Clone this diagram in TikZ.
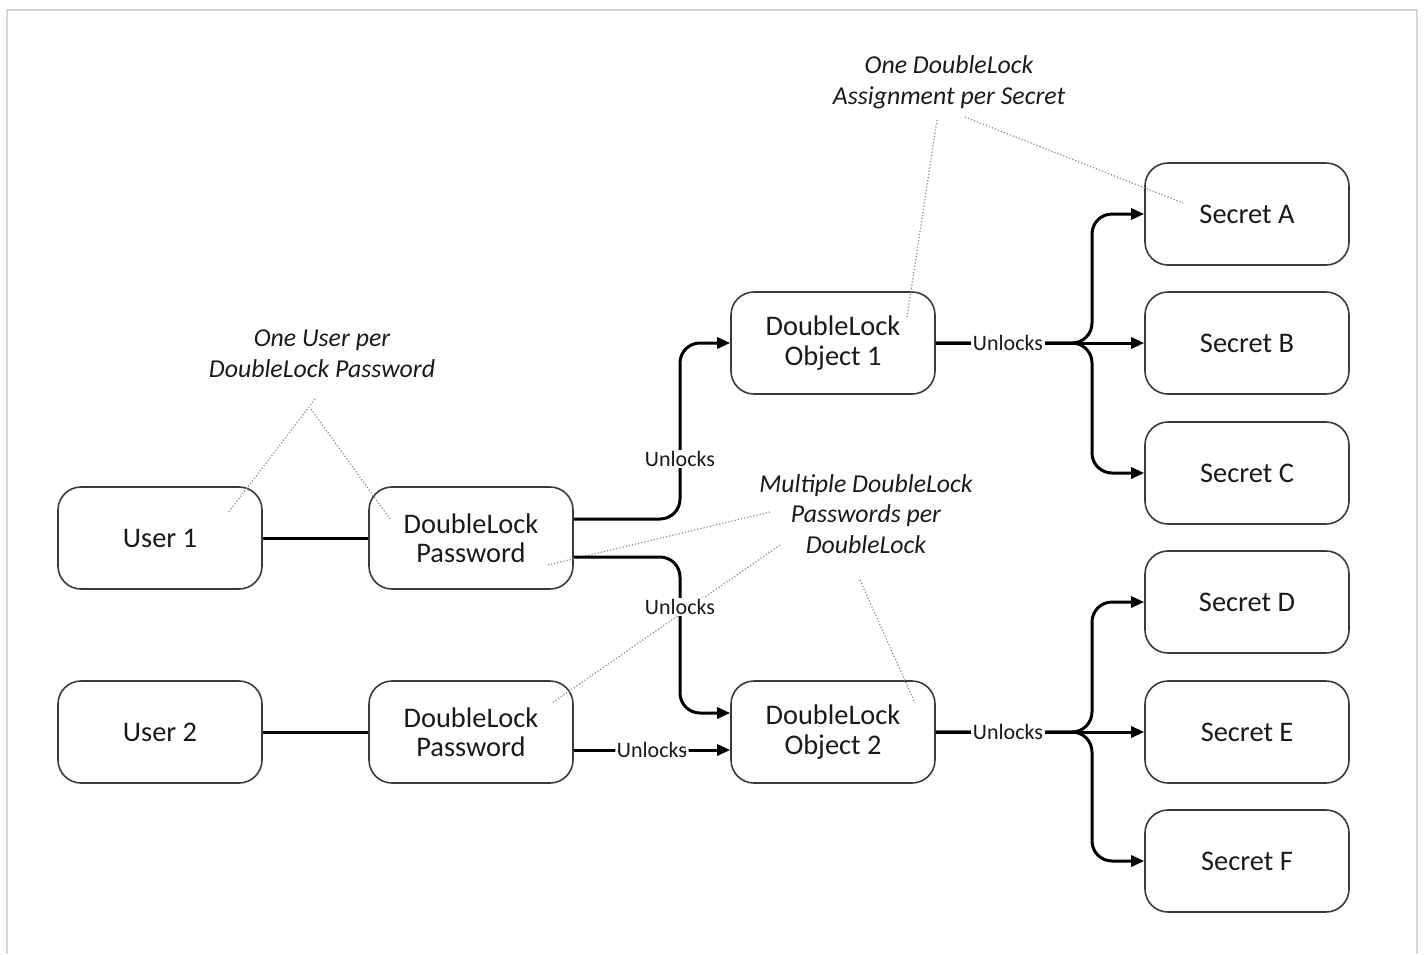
\documentclass[tikz,border=0pt]{standalone}
\usepackage{fontspec}
\setmainfont{Carlito}
\usetikzlibrary{arrows.meta,calc}
\definecolor{boxline}{HTML}{3A3A3A}
\definecolor{txt}{HTML}{1A1A1A}
\definecolor{frame}{HTML}{D6D6D6}
\definecolor{dots}{HTML}{8A8A8A}
\tikzset{
  box/.style={draw=boxline, line width=0.8pt, rectangle, rounded corners=11.5pt,
    minimum width=102pt, minimum height=51pt, inner sep=0pt, align=center,
    text=txt, font=\fontsize{14.2}{14.6}\selectfont},
  conn/.style={draw=black, line width=1.5pt, rounded corners=10pt},
  arr/.style={conn, -{Triangle[length=6.5pt,width=5.5pt]}},
  lbl/.style={fill=white, inner sep=0.8pt, text=txt, font=\fontsize{11}{11.5}\selectfont},
  note/.style={align=center, text=txt, font=\fontsize{12.9}{15.3}\selectfont\itshape},
  pointer/.style={draw=dots, line width=0.6pt, densely dotted}
}
\begin{document}
\begin{tikzpicture}[x=0.5pt,y=-0.5pt]
\useasboundingbox (0,0) rectangle (1424,954);
\draw[frame, line width=1.2pt] (7,954) -- (7,10) -- (1417,10) -- (1417,954);

% nodes
\node[box] (u1) at (160,538) {User 1};
\node[box] (p1) at (471,538) {DoubleLock\\Password};
\node[box] (u2) at (160,732) {User 2};
\node[box] (p2) at (471,732) {DoubleLock\\Password};
\node[box] (o1) at (833,343) {DoubleLock\\Object 1};
\node[box] (o2) at (833,732) {DoubleLock\\Object 2};
\node[box] (sA) at (1247,214) {Secret A};
\node[box] (sB) at (1247,343) {Secret B};
\node[box] (sC) at (1247,473) {Secret C};
\node[box] (sD) at (1247,602) {Secret D};
\node[box] (sE) at (1247,732) {Secret E};
\node[box] (sF) at (1247,861) {Secret F};

% annotations
\node[note] (a1) at (949,82) {One DoubleLock\\Assignment per Secret};
\node[note] (a2) at (322,354) {One User per\\DoubleLock Password};
\node[note] (a3) at (866,514) {Multiple DoubleLock\\Passwords per\\DoubleLock};

% pointer coordinates
\coordinate (a1s1) at (937,120);
\coordinate (a1e1) at (907,317);
\coordinate (a1s2) at (965,117);
\coordinate (a1e2) at (1183,203);
\coordinate (a2s1) at (315,399);
\coordinate (a2e1) at (228,513);
\coordinate (a2s2) at (311,409);
\coordinate (a2e2) at (390,519);
\coordinate (a3s1) at (770,512);
\coordinate (a3e1) at (548,565);
\coordinate (a3s2) at (780,545);
\coordinate (a3e2) at (552,703);
\coordinate (a3s3) at (860,580);
\coordinate (a3e3) at (915,703);

\draw[pointer] (a1s1) -- (a1e1);
\draw[pointer] (a1s2) -- (a1e2);
\draw[pointer] (a2s1) -- (a2e1);
\draw[pointer] (a2s2) -- (a2e2);
\draw[pointer] (a3s1) -- (a3e1);
\draw[pointer] (a3s2) -- (a3e2);
\draw[pointer] (a3s3) -- (a3e3);

% connectors
\draw[conn] (u1.east) -- (p1.west);
\draw[conn] (u2.east) -- (p2.west);

\coordinate (b1) at (680,519);
\coordinate (b2) at (680,557);
\draw[arr] (p1.east |- b1) -- (b1) |- (o1.west);
\draw[arr] (p1.east |- b2) -- (b2) |- ([yshift=9.5pt]o2.west);
\node[lbl] at (680,459) {Unlocks};
\node[lbl] at (680,607) {Unlocks};

\draw[arr] ([yshift=-9pt]p2.east) -- ([yshift=-9pt]o2.west)
  node[lbl, pos=0.5] {Unlocks};

\coordinate (j1) at (1092,343);
\draw[arr] (o1.east) -- (j1) |- (sA.west);
\draw[arr] (o1.east) -- (j1) |- (sC.west);
\draw[arr] (o1.east) -- (sB.west);
\node[lbl] at (1008,343) {Unlocks};

\coordinate (j2) at (1092,732);
\draw[arr] (o2.east) -- (j2) |- (sD.west);
\draw[arr] (o2.east) -- (j2) |- (sF.west);
\draw[arr] (o2.east) -- (sE.west);
\node[lbl] at (1008,732) {Unlocks};
\end{tikzpicture}
\end{document}
